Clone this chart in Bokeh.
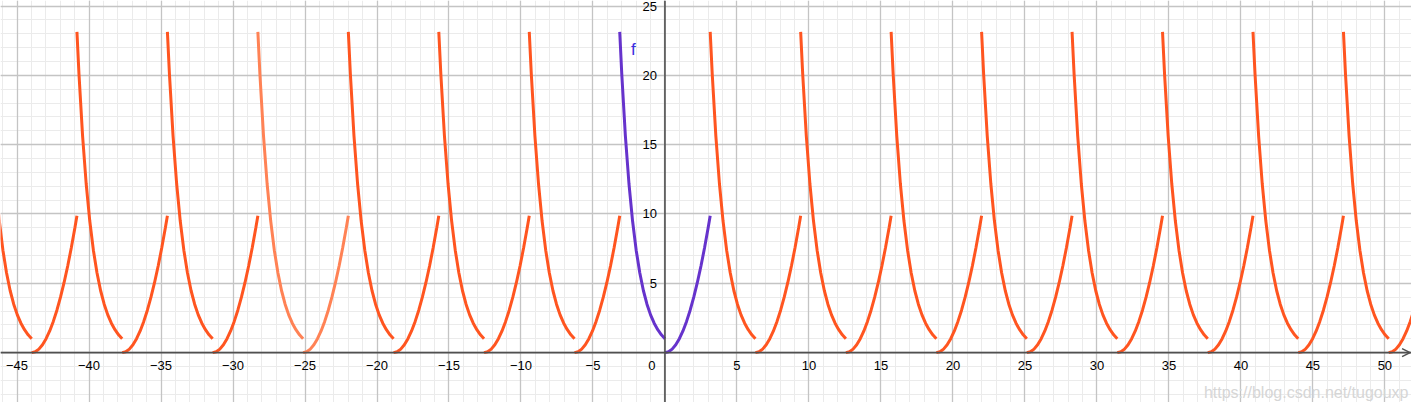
from bokeh.plotting import figure
from bokeh.models import (Range1d, Grid, SingleIntervalTicker, Span, Arrow,
                          OpenHead, Label, ColumnDataSource)
from bokeh.core.properties import value
from bokeh.embed import file_html
from bokeh.resources import INLINE

# ---- data: one period of f ----
exp_x = [-3.1416, -3.0, -2.75, -2.5, -2.25, -2.0, -1.75, -1.5, -1.25, -1.0, -0.75, -0.5, -0.25, 0.0]
exp_y = [23.14, 20.09, 15.64, 12.18, 9.49, 7.39, 5.76, 4.48, 3.49, 2.72, 2.12, 1.65, 1.28, 1.0]
par_x = [0.0, 0.25, 0.5, 0.75, 1.0, 1.25, 1.5, 1.75, 2.0, 2.25, 2.5, 2.75, 3.0, 3.1416]
par_y = [0.0, 0.06, 0.25, 0.56, 1.0, 1.56, 2.25, 3.06, 4.0, 5.06, 6.25, 7.56, 9.0, 9.87]
period = 6.2832
dark_copies = [-7, -6, -5, -3, -2, -1, 1, 2, 3, 4, 5, 6, 7, 8]
light_copies = [-4]

x_ticks = [-45, -40, -35, -30, -25, -20, -15, -10, -5, 5, 10, 15, 20, 25, 30, 35, 40, 45, 50]
x_labels = ["\u221245", "\u221240", "\u221235", "\u221230", "\u221225", "\u221220", "\u221215",
            "\u221210", "\u22125", "5", "10", "15", "20", "25", "30", "35", "40", "45", "50"]
y_ticks = [5, 10, 15, 20, 25]
y_labels = ["5", "10", "15", "20", "25"]

FONT = "Liberation Sans"
DARK = "#ff5520"
LIGHT = "#ff8255"
PURPLE = "#6633cc"

p = figure(width=1411, height=402, output_backend="svg", toolbar_location=None,
           x_range=Range1d(-46.15, 51.85), y_range=Range1d(-3.6, 25.4),
           x_axis_location=None, y_axis_location=None, min_border=0,
           outline_line_color=None, background_fill_color="white")

# grids
p.add_layout(Grid(dimension=0, ticker=SingleIntervalTicker(interval=1),
                  grid_line_color="#ebebeb", grid_line_width=1))
p.add_layout(Grid(dimension=1, ticker=SingleIntervalTicker(interval=1),
                  grid_line_color="#ebebeb", grid_line_width=1))
p.add_layout(Grid(dimension=0, ticker=SingleIntervalTicker(interval=5),
                  grid_line_color="#c4c4c4", grid_line_width=1.3))
p.add_layout(Grid(dimension=1, ticker=SingleIntervalTicker(interval=5),
                  grid_line_color="#c4c4c4", grid_line_width=1.3))

# axes through origin
p.add_layout(Span(location=0, dimension="width", line_color="#505050", line_width=1.6))
p.add_layout(Span(location=0, dimension="height", line_color="#505050", line_width=1.6))
p.add_layout(Arrow(end=OpenHead(size=8, line_color="#505050", line_width=1.5),
                   x_start=51.2, y_start=0, x_end=51.75, y_end=0,
                   line_color="#505050", line_width=0))

# periodic copies
def copies(ks):
    xs, ys = [], []
    for k in ks:
        xs.append([x + k * period for x in exp_x]); ys.append(exp_y)
        xs.append([x + k * period for x in par_x]); ys.append(par_y)
    return xs, ys

xs, ys = copies(dark_copies)
p.multi_line(xs, ys, line_color=DARK, line_width=3)
xs, ys = copies(light_copies)
p.multi_line(xs, ys, line_color=LIGHT, line_width=3)

# f itself
p.line(exp_x, exp_y, line_color=PURPLE, line_width=3)
p.line(par_x, par_y, line_color=PURPLE, line_width=3)

# tick labels
xsrc = ColumnDataSource(dict(x=x_ticks, y=[0] * len(x_ticks), t=x_labels))
p.text("x", "y", "t", source=xsrc, text_font=value(FONT), text_font_size="13px",
       text_align="center", text_baseline="middle", y_offset=13, text_color="#000000")
ysrc = ColumnDataSource(dict(x=[0] * len(y_ticks), y=y_ticks, t=y_labels))
p.text("x", "y", "t", source=ysrc, text_font=value(FONT), text_font_size="13px",
       text_align="right", text_baseline="middle", x_offset=-8, text_color="#000000")
p.text([0], [0], ["0"], text_font=value(FONT), text_font_size="13px",
       text_align="center", text_baseline="middle", x_offset=-13, y_offset=13,
       text_color="#000000")

# function label
p.add_layout(Label(x=-2.2, y=21.9, text="f", text_font=FONT, text_font_size="17px",
                   text_color="#3a2ee0", text_align="center", text_baseline="middle"))

# watermark
p.add_layout(Label(x=1408, y=10, x_units="screen", y_units="screen",
                   text="https://blog.csdn.net/tugouxp", text_font=FONT,
                   text_font_size="16px", text_color="#d6d6d6",
                   text_align="right", text_baseline="middle"))

open("out.html", "w").write(file_html(p, INLINE))
